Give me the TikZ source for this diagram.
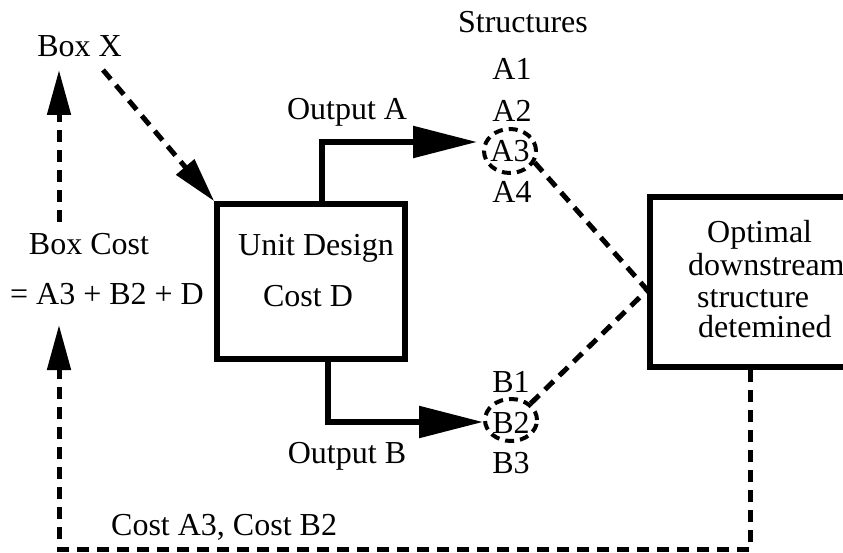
\documentclass[tikz,border=0pt]{standalone}
\usepackage{fontspec}
\setmainfont{Liberation Serif}
\usetikzlibrary{arrows.meta,shapes.geometric}
\begin{document}
\begin{tikzpicture}[x=1pt,y=-1pt,
  lbl/.style={font=\fontsize{32}{38}\selectfont, inner sep=0pt, anchor=base},
  lblw/.style={lbl, anchor=base west},
  solidline/.style={line width=5.5pt},
  dashline/.style={line width=5pt, dash pattern=on 12pt off 8pt},
  ringline/.style={draw, ellipse, line width=4pt, dash pattern=on 9pt off 6pt, inner sep=0pt},
  boxstyle/.style={draw, line width=5.5pt, rectangle, inner sep=0pt},
  bigtip/.style={-{Triangle[length=64pt,width=31pt]}},
  smalltip/.style={-{Triangle[length=45pt,width=23pt]}}]
\useasboundingbox (0,0) rectangle (843,553);
\clip (0,0) rectangle (843,553);

% left texts
\node[lbl] (boxx) at (79.5,57) {Box X};
\node[lbl] (boxcost) at (89,255) {Box Cost};
\node[lbl] (boxsum) at (107,305) {= A3 + B2 + D};

% unit design box
\node[boxstyle, minimum width=188pt, minimum height=155pt] (unit) at (311,281.5) {};
\node[lbl] (unitl1) at (316,256) {Unit Design};
\node[lbl] (unitl2) at (308,306) {Cost D};

\node[lbl] (outa) at (347,120) {Output A};
\node[lbl] (outb) at (347,463) {Output B};

% structures
\node[lbl] (struct) at (523,33) {Structures};
\node[lbl] (a1) at (512,80) {A1};
\node[lbl] (a2) at (512,122) {A2};
\node[lbl] (a3) at (510,162) {A3};
\node[lbl] (a4) at (512,203) {A4};
\node[ringline, minimum width=52pt, minimum height=44pt] (a3ring) at (510,151) {};
\node[lbl] (b1) at (511,392) {B1};
\node[lbl] (b2) at (511,433) {B2};
\node[lbl] (b3) at (511,473) {B3};
\node[ringline, minimum width=52pt, minimum height=42pt] (b2ring) at (511,420) {};

% optimal box
\node[boxstyle, minimum width=260pt, minimum height=170pt] (opt) at (780,282) {};
\node[lblw] (optl1) at (707,243) {Optimal};
\node[lblw] (optl2) at (688,276) {downstream};
\node[lblw] (optl3) at (697,307) {structure};
\node[lblw] (optl4) at (698,337) {detemined};

\node[lblw] (costab) at (111,535) {Cost A3, Cost B2};

% connectors
\coordinate (bxout) at (103,70);
\draw[dashline, smalltip] (bxout) -- (unit.north west);
\coordinate (bcup) at (59,222);
\coordinate (bxin) at (59,70);
\draw[dashline, smalltip] (bcup) -- (bxin);

\coordinate (atip) at (477,142);
\coordinate (btip) at (483,422);
\draw[solidline, bigtip] ([xshift=11pt]unit.north) |- (atip);
\draw[solidline, bigtip] ([xshift=17pt]unit.south) |- (btip);

\coordinate (meet) at ([yshift=-8pt]opt.west);
\draw[dashline] (a3ring.-25) -- (meet);
\draw[dashline] (b2ring.40) -- (meet);

\coordinate (fbcorner) at (59,549);
\coordinate (fbtip) at (59,325);
\draw[dashline, smalltip] ([xshift=-30pt]opt.south) |- (fbcorner) -- (fbtip);
\end{tikzpicture}
\end{document}
